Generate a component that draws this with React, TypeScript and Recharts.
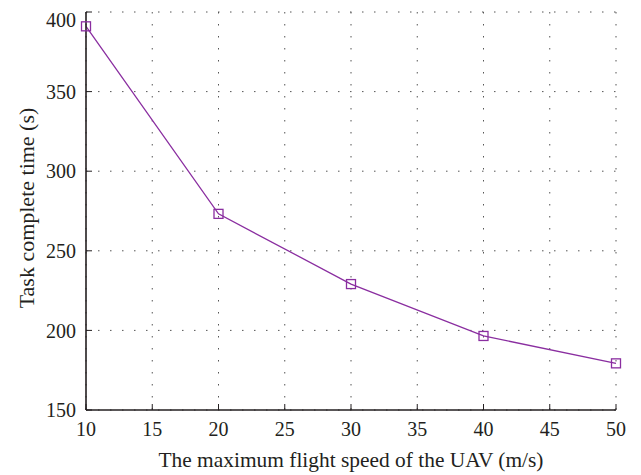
import React from 'react';
import { LineChart, Line, XAxis, YAxis, CartesianGrid } from 'recharts';

const speeds = [10, 20, 30, 40, 50];
const times = [391, 273.2, 229.1, 196.5, 179.3];
const xTicks = [10, 15, 20, 25, 30, 35, 40, 45, 50];
const yTicks = [150, 200, 250, 300, 350, 400];
const xTitle = 'The maximum flight speed of the UAV (m/s)';
const yTitle = 'Task complete time (s)';

const data = speeds.map((s, i) => ({ speed: s, time: times[i] }));

const FONT = '"Liberation Serif", "DejaVu Serif", serif';
const AX = '#231f20';
const PURPLE = '#8a2ea0';

const SquareDot = (props: any) => {
  const { cx, cy } = props;
  if (cx == null || cy == null) return null;
  return <rect x={cx - 4.5} y={cy - 4.5} width={9} height={9} fill="none" stroke={PURPLE} strokeWidth={1.3} />;
};

const XTitle = (props: any) => {
  const vb = props.viewBox || {};
  const cx = vb.x + vb.width / 2;
  return (
    <text
      x={cx}
      y={vb.y + 57}
      textAnchor="middle"
      textLength={385}
      lengthAdjust="spacingAndGlyphs"
      style={{ fontFamily: FONT, fontSize: 22, fill: AX }}
    >
      {xTitle}
    </text>
  );
};

const YTitle = (props: any) => {
  const vb = props.viewBox || {};
  const cy = vb.y + vb.height / 2 - 3;
  return (
    <text
      x={18}
      y={cy}
      transform={`rotate(-90, 18, ${cy})`}
      textAnchor="middle"
      dominantBaseline="central"
      style={{ fontFamily: FONT, fontSize: 22, fill: AX }}
    >
      {yTitle}
    </text>
  );
};

export default function App() {
  const tickStyle = { fontFamily: FONT, fontSize: 20, fill: AX };
  const axisLine = { stroke: AX, strokeWidth: 1.6 };
  const tickLine = { stroke: AX, strokeWidth: 1 };
  return (
    <LineChart width={625} height={467} data={data} margin={{ top: 4, right: 17, bottom: 0, left: 0 }}>
      <CartesianGrid stroke="#555" strokeDasharray="1.5 10.5" strokeWidth={1} xAxisId="b" yAxisId="l" />
      <XAxis
        xAxisId="b"
        dataKey="speed"
        type="number"
        domain={[10, 50]}
        ticks={xTicks}
        tick={tickStyle}
        tickSize={-6}
        tickMargin={18}
        axisLine={axisLine}
        tickLine={tickLine}
        height={65}
        label={<XTitle />}
      />
      <XAxis
        xAxisId="t"
        orientation="top"
        dataKey="speed"
        type="number"
        domain={[10, 50]}
        ticks={xTicks}
        tickFormatter={() => ''}
        tickSize={-6}
        axisLine={axisLine}
        tickLine={tickLine}
        height={0}
      />
      <YAxis
        yAxisId="l"
        type="number"
        domain={[150, 400]}
        ticks={yTicks}
        tick={tickStyle}
        tickSize={-6}
        tickMargin={16}
        axisLine={axisLine}
        tickLine={tickLine}
        width={78}
        label={<YTitle />}
      />
      <YAxis
        yAxisId="r"
        orientation="right"
        type="number"
        domain={[150, 400]}
        ticks={yTicks}
        tickFormatter={() => ''}
        tickSize={-6}
        axisLine={axisLine}
        tickLine={tickLine}
        width={0}
      />
      <Line
        xAxisId="b"
        yAxisId="l"
        dataKey="time"
        stroke={PURPLE}
        strokeWidth={1.3}
        dot={<SquareDot />}
        activeDot={false}
        isAnimationActive={false}
      />
    </LineChart>
  );
}
